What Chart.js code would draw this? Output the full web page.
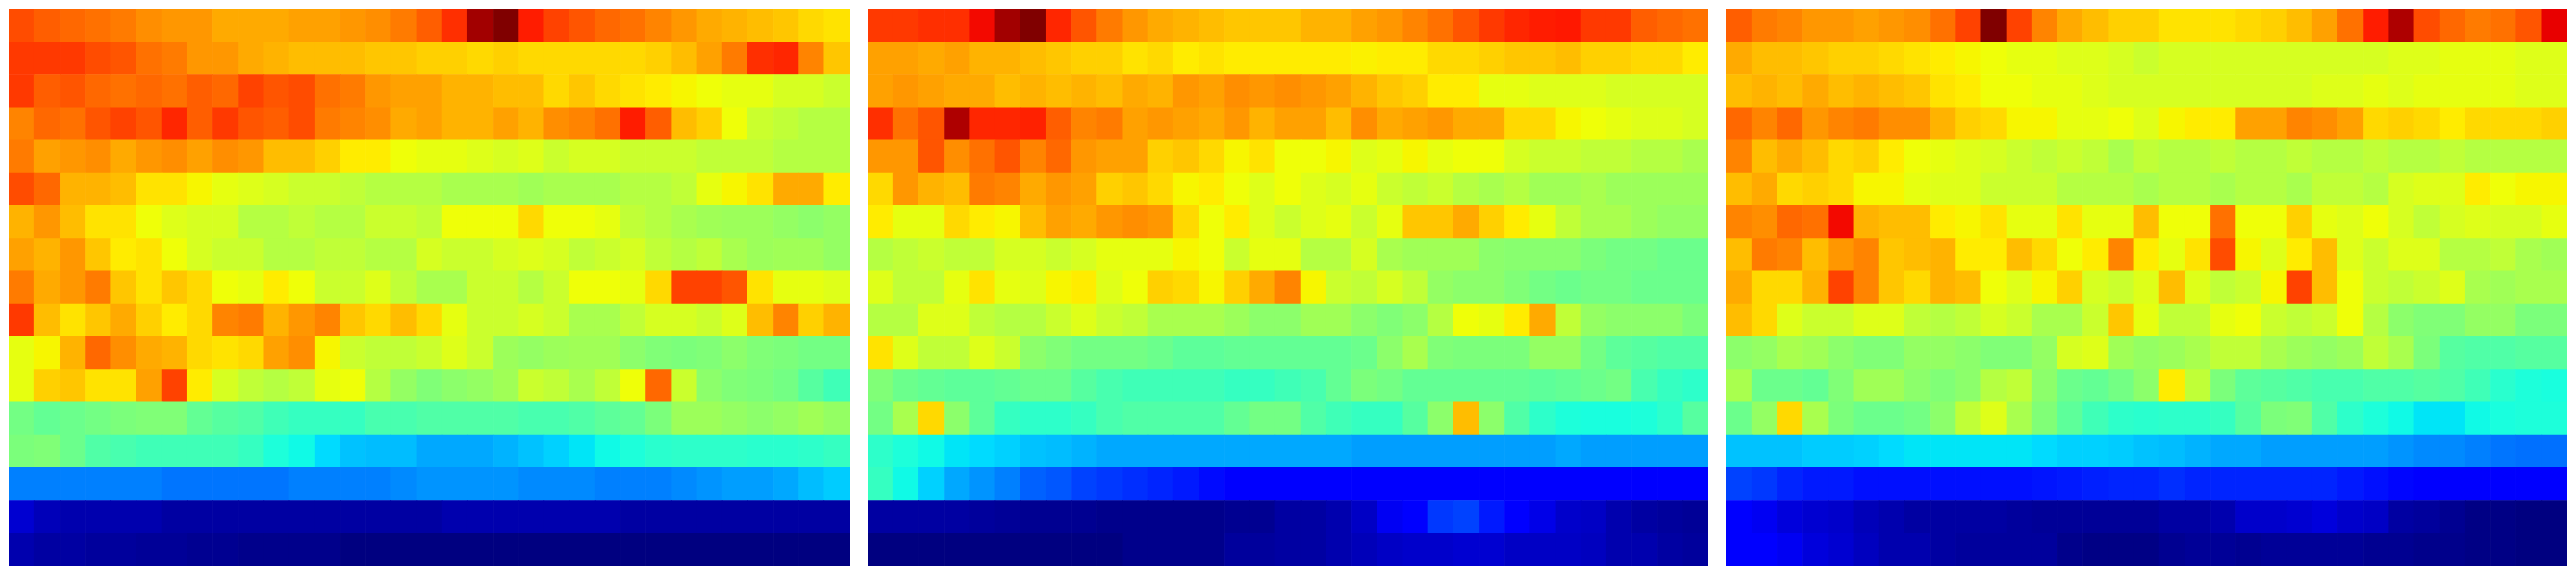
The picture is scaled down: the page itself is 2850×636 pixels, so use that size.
<!DOCTYPE html>
<html>
<head>
<meta charset="utf-8">
<title>Heatmaps</title>
<script src="https://cdn.jsdelivr.net/npm/chart.js@4"></script>
<style>
    html, body { margin: 0; background: #fff; }
    #paneles { display: flex; gap: 20px; padding: 10px; }
    canvas { display: block; }
</style>
</head>
<body>
<div id="paneles">
    <canvas id="panel1" width="930" height="616"></canvas>
    <canvas id="panel2" width="930" height="616"></canvas>
    <canvas id="panel3" width="930" height="616"></canvas>
</div>
<script>
// values, 0-100 on the jet scale, top row first
const panel1 = [
    [83,81,80,79,78,76,75,75,73,73,73,74,74,75,76,78,81,86,97,100,88,84,82,80,79,77,75,73,72,71,70,68,67],
    [85,85,85,83,82,79,78,75,75,73,72,71,71,71,70,70,69,69,68,69,68,68,68,68,68,69,71,74,78,86,87,77,70],
    [85,81,82,80,79,80,79,81,80,84,82,83,79,78,75,74,74,72,72,71,71,68,70,68,67,66,65,64,63,63,61,61,59.5],
    [77,80,79,82,84,82,87,81,85,82,81,83,78,77,76,73,74,72,72,74,72,76,77,79,88,81,71,69,64,59.5,58.3,57,57],
    [78,74,75,76,73,75,76,74,76,75,71,71,69,66,66,64,63,63,62,61,62,59.5,61,61,59.5,59.5,59.5,58.3,58.3,58.3,57,57,57],
    [83,80,72,72,71,67,67,65,63,62,61,59.5,59.5,58.3,57,57,57,55.5,55.5,55.5,54.5,55.5,55.5,55.5,57,57,58.3,63,65,67,73,73,66],
    [72,75,71,67,67,64,62,61,61,57,57,58.3,57,57,59.5,59.5,58.3,64,64,64,68,64,64,63,58.3,57,55.5,54.5,54,54,53,52,53],
    [74,72,75,70,66,67,64,61,59.5,59.5,57,57,58.3,58.3,57,57,61,59.5,59.5,61,62,61,58.3,59.5,61,58.3,57,58.3,55.5,54,54.5,54.5,53],
    [78,73,75,78,70,67,70,68,64,63,66,64,59.5,59.5,62,58.3,55.5,55.5,59.5,59.5,57,59.5,64,64,63,68,84,84,82,67,63,63,62],
    [85,71,67,70,73,69,66,68,77,78,72,75,77,70,68,71,68,63,59.5,59.5,61,59.5,55.5,55.5,58.3,61,61,59.5,62,71,77,69,72],
    [63,65,72,80,76,73,72,68,67,68,74,76,65,59.5,58.3,58.3,59.5,62,59.5,54,53,54,54.5,54.5,52,50.5,50,50.5,52,50.5,50,49,49],
    [63,69,70,67,67,74,84,66,61,58.3,57,58.3,63,64,57,53,50.5,52,53,54.5,59.5,58.3,55.5,58.3,64,80,59.5,52,50.5,50,49,45.5,42.7],
    [49,47,48,49,50,50.5,50.5,47,45.5,44.7,42.7,41.5,41.5,41.5,43.7,43.7,44.7,44.7,44.7,44.7,43.7,43.7,44.7,46.3,47,50,54,54,53,52,53,54.5,53],
    [50,50.5,48,44.7,43.7,42.7,42.7,42.7,42.7,41.5,38.5,37,34,31.5,31,31,29,29,29,30,31.5,33,35,37,38.5,40,40.5,40.5,40.5,40,40,40.5,41.5],
    [25,25,25,25,25,25,24,24,24,24,24,25,25,25,25,26,27,27,27,27,26,26,26,25,25,25,26,27,28,28,29,31,32.5],
    [7,5,4,4,4,4,3,3,3,3,3,3,3,3,3,3,3,4,4,4,4,4,4,4,3,3,3,3,3,3,3,3,3],
    [4,3,3,2.5,2.5,2,2,1.5,1.5,1,1,1,1,0,0,0,0,0,0,0,0,0,0,0,0,0,0,0,0,0,0,0,0]
];

const panel2 = [
    [85,85,86,86,90,97,100,87,82,78,75,73,72,71,70,70,70,72,72,74,75,77,79,82,85,87,88,88.5,85,85,81,80,79],
    [74,74,73,74,72,72,71,70,69,69,67,68,66,67,66,66,66,66,66,65.5,66,66,68,68,69,70,70,71,69,69,68,68,66],
    [74,75,74,73,73,71,72,71,72,71,73,72,75,74,76,75,76,75,74,72,70,69,66,66,63,63,62,62,62,61,61,61,61],
    [86,79,82,96,87,87,87.5,81,77,78,74,75,74,73,75,72,74,74,71,76,73,74,75,73,73,68,68,65,64,63,62,62,61],
    [75,75,82,76,79,82,77,80,75,74,74,69,70,68,65,67,64,64,65,62,63,65,63,64,64,61,59.5,59.5,58.3,58.3,57,57,55.5],
    [68,75,72,71,78,77,73,75,74,69,70,68,65,66,64,62,64,62,61,63,59.5,58.3,59.5,57,55.5,57,54.5,54.5,55.5,54,54,54,54],
    [66,63,63,68,66,65,71,74,73,75,76,75,68,64,66,62,59.5,62,63,59.5,63,70,70,73,69,66,63,58.3,55.5,55.5,54,53,53],
    [57,58.3,59.5,58.3,58.3,61,61,59.5,61,63,63,63,65,64,59.5,63,63,57,57,61,55.5,54.5,54.5,54.5,52,51.5,51.5,51.5,50,49,49,48,48],
    [62,58.3,58.3,63,67,63,62,65,66,62,64,69,68,65,69,73,77,65,59.5,58.3,61,58.3,53,52,52,50.5,49,48,49,49,48,48,48],
    [57,57,62,62,58.3,57,57,59.5,62,59.5,58.3,55.5,55.5,55.5,54,52,52,54.5,54.5,52,50.5,52,57,64,63,66,73,58.3,53,52,52,52,50],
    [67,62,58.3,58.3,62,59.5,52,50.5,49,49,49,48,46.3,46.3,47,47,47,47,47,48,52,55.5,50.5,50,50,50,53,53,49,46.3,45.5,44.7,44.7],
    [50.5,48,47,46.3,46.3,47,48,48,45.5,43.7,42.7,42.7,42.7,42.7,41.5,41.5,42.7,43.7,47,50,49,47,47,47,47,47,46.3,47,48,49,43.7,41.5,40.5],
    [49,55.5,68,52,46.3,41.5,40.5,40.5,41.5,43.7,44.7,44.7,44.7,44.7,47,49,49,44.7,42.7,41.5,41.5,45.5,52,71,52,44.7,40.5,38.5,38,38,38.5,40.5,45.5],
    [40.5,38.5,37,35,34,33,31.5,31,30,29,29,29,29,29,29,29,29,29,29,28,28,28,28,28,28,28,28,29,28,28,28,28,28],
    [41.5,37,33,29,27,25,22,21,19,18,17,16,15,13.5,12,12,12,12,12,12,12,12,12,12,12,12,12,12,12,12,12,12,12],
    [3,3,3,3,2.5,2,1.5,1.5,1.5,1,1,1,1,1,1.5,1.5,3,3,4,6,10,12,18,19,15,12,9,6.5,6,4,3,2.5,2],
    [0,0,0,0,0,0,0,0,0,0,1,1,1,1,2.5,2.5,3,3,4,5,6,6.5,6.5,7,7,6,6,6,5.5,4,4,3,2.5]
];

const panel3 = [
    [81,78,77,75,75,74,75,76,79,84,100,84,77,73,71,69,69,67,67,67,68,69,71,74,79,88,96,83,80,78,79,82,91],
    [73,71,71,70,69,69,68,67,66,65,64,63,63,62,62,61,59.5,61,61,61,61,61,61,61,61,61,62,62,63,63,63,62,62],
    [71,72,71,73,71,72,71,70,67,66,64,64,63,63,62,61,61,61,61,61,61,61,61,62,62,63,62,63,63,63,63,62,62],
    [80,77,80,75,77,78,76,76,72,69,68,65,65,63,63,64,62,65,66,66,74,74,77,76,74,68,69,68,66,68,68,68,69],
    [77,71,73,71,68,69,66,64,63,62,61,59.5,58.3,59.5,58.3,55.5,58.3,57,57,58.3,57,57,58.3,57,57,58.3,57,57,58.3,57,57,57,57],
    [71,73,68,69,68,65,65,63,62,62,59.5,59.5,59.5,57,57,57,55.5,57,57,55.5,57,57,55.5,58.3,58.3,57,61,62,62,66,64,65,65],
    [77,76,80,79,90,72,71,71,66,65,67,63,63,67,63,63,71,64,64,79,64,64,69,63,62,64,61,58.3,61,62,61,61,63],
    [71,78,77,71,75,77,70,71,72,66,66,71,68,64,66,77,66,63,67,83,65,62,66,71,62,59.5,62,62,57,57,58.3,55.5,54.5],
    [73,68,68,72,84,77,70,68,72,71,64,62,65,69,61,59.5,62,71,62,58.3,59.5,65,84,71,64,59.5,58.3,59.5,62,55.5,54.5,55.5,55.5],
    [71,68,62,59.5,59.5,62,62,58.3,57,58.3,61,59.5,55.5,55.5,59.5,70,63,58.3,58.3,63,64,59.5,58.3,59.5,64,57,52,50.5,50.5,53,53,50,50],
    [52,53,55.5,54.5,52,50.5,50.5,53,53,52,50.5,50.5,53,61,62,54.5,53,54,55.5,58.3,58.3,55.5,54,53,54,58.3,55.5,50,45.5,44.7,44.7,45.5,45.5],
    [55.5,48,48,47,50.5,54.5,54.5,52,50.5,52,57,58.3,52,48,47,49,52,66,58.3,50,46.3,45.5,44.7,43.7,43.7,44.7,44.7,45.5,44.7,42.7,40,38.5,38],
    [48,53,68,55.5,50,48,48,49,52,58.3,62,55.5,50.5,46.3,42.7,40.5,40,40.5,40.5,41.5,45.5,50,50.5,44.7,40.5,38.5,37,35,35,37,38,38.5,38.5],
    [31.5,31.5,31.5,32.5,32.5,33,34,35,35,35,35,35,34,33,33,32.5,31.5,31,30,29,29,28,28,28,28,28,27,26,26,25,24,23.5,23.5],
    [19,18,16,15,15,14,14,14,14,14,14,14,14.5,15,15.5,16,16,17,16,16,16,16,16,16,15,14,13,12,12,12,12,12,12],
    [12,10,8,7,6.5,5,4,3,3,3,3,2.5,2,2,2,2,2,3,3,4,6.5,6.5,7,8,6.5,6,3,2.5,1.5,0.5,0.5,0,0],
    [11,12,10,8,7,5.5,4,4,3,2.5,2.5,2.5,2.5,1,0.5,0.5,0.5,1.5,2,2,1.5,2,2,2,2,1.5,1.5,1,1,0.5,0.5,0,0]
];

const columnas = panel1[0].map((_, i) => i + 1);

// matplotlib jet
const tramosJet = {
    r: [[0, 0], [0.35, 0], [0.66, 1], [0.89, 1], [1, 0.5]],
    g: [[0, 0], [0.125, 0], [0.375, 1], [0.64, 1], [0.91, 0], [1, 0]],
    b: [[0, 0.5], [0.11, 1], [0.34, 1], [0.65, 0], [1, 0]]
};

function canal(tramos, v) {
    for (let i = 1; i < tramos.length; i++) {
        if (v <= tramos[i][0]) {
            const [x0, y0] = tramos[i - 1];
            const [x1, y1] = tramos[i];
            return y0 + (y1 - y0) * (v - x0) / (x1 - x0);
        }
    }
    return tramos[tramos.length - 1][1];
}

function jet(valor) {
    const v = valor / 100;
    const r = Math.round(canal(tramosJet.r, v) * 255);
    const g = Math.round(canal(tramosJet.g, v) * 255);
    const b = Math.round(canal(tramosJet.b, v) * 255);
    return `rgb(${r},${g},${b})`;
}

function dibujarPanel(id, filas) {
    // stacked bars fill from the bottom, so the last row goes first
    const datasets = filas.slice().reverse().map(fila => ({
        data: fila.map(() => 1),
        backgroundColor: fila.map(jet),
        borderWidth: 0,
        barPercentage: 1,
        categoryPercentage: 1
    }));

    new Chart(document.getElementById(id), {
        type: 'bar',
        data: { labels: columnas, datasets: datasets },
        options: {
            responsive: false,
            animation: false,
            devicePixelRatio: 1,
            layout: { padding: 0 },
            plugins: { legend: { display: false }, tooltip: { enabled: false } },
            scales: {
                x: { display: false, stacked: true },
                y: { display: false, stacked: true, min: 0, max: filas.length }
            }
        }
    });
}

dibujarPanel('panel1', panel1);
dibujarPanel('panel2', panel2);
dibujarPanel('panel3', panel3);
</script>
</body>
</html>
